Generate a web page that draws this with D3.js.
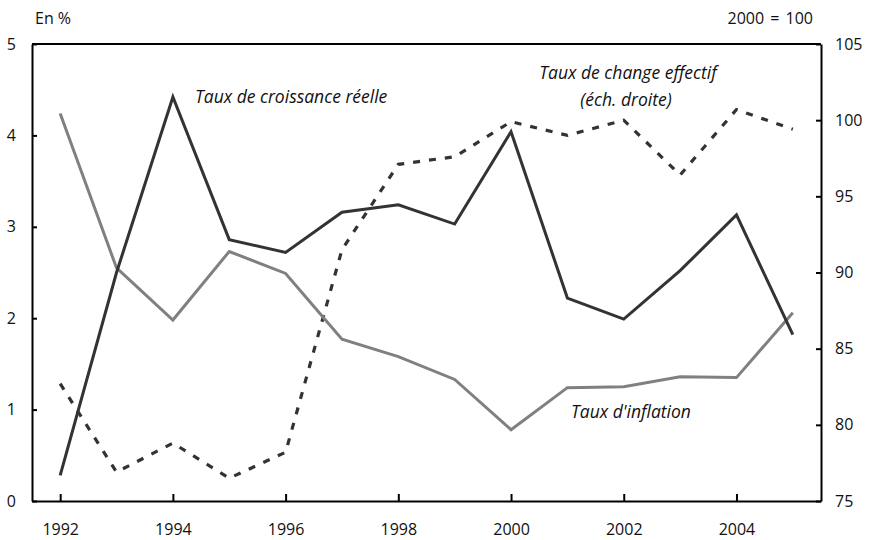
<!DOCTYPE html>
<html>
<head>
<meta charset="utf-8">
<script src="https://cdn.jsdelivr.net/npm/d3@7"></script>
<style>
  body { margin: 0; background: #fff; }
  svg text { font-family: "Open Sans", "Noto Sans", sans-serif; fill: #111; }
</style>
</head>
<body>
<div class="chart"></div>
<script>
var years = [1992, 1993, 1994, 1995, 1996, 1997, 1998, 1999, 2000, 2001, 2002, 2003, 2004, 2005];
var croissance = [0.28, 2.5, 4.42, 2.86, 2.72, 3.16, 3.24, 3.03, 4.04, 2.22, 1.99, 2.52, 3.13, 1.82];
var inflation = [4.24, 2.55, 1.98, 2.73, 2.49, 1.77, 1.58, 1.33, 0.78, 1.24, 1.25, 1.36, 1.35, 2.06];
var change = [82.7, 76.9, 78.8, 76.5, 78.2, 91.5, 97.1, 97.6, 99.9, 99.0, 100.0, 96.4, 100.7, 99.4];
var xTicks = [1992, 1994, 1996, 1998, 2000, 2002, 2004];
var leftTicks = [0, 1, 2, 3, 4, 5];
var rightTicks = [75, 80, 85, 90, 95, 100, 105];

var margin = { top: 44, right: 48, bottom: 39, left: 32 };
var fullWidth = 869, fullHeight = 540;
var width = fullWidth - margin.left - margin.right;
var height = fullHeight - margin.top - margin.bottom;
var tickFont = "16px";
var labelFont = "17.5px";

var svg = d3.select(".chart").append("svg")
  .attr("width", fullWidth)
  .attr("height", fullHeight)
  .append("g")
  .attr("transform", `translate(${margin.left}, ${margin.top})`);

var xScale = d3.scalePoint().domain(years).range([0, width]).padding(0.5);
var yLeft = d3.scaleLinear().domain([0, 5]).range([height, 0]);
var yRight = d3.scaleLinear().domain([75, 105]).range([height, 0]);

// axes, ticks pointing inward
var xAxis = d3.axisBottom(xScale).tickValues(xTicks).tickSize(-7).tickSizeOuter(0).tickPadding(23);
var gx = svg.append("g").attr("transform", `translate(0, ${height})`).call(xAxis);

var gl = svg.append("g").call(d3.axisLeft(yLeft).tickValues(leftTicks).tickFormat(d3.format("d"))
  .tickSize(-5).tickSizeOuter(0).tickPadding(16));
var gr = svg.append("g").attr("transform", `translate(${width}, 0)`)
  .call(d3.axisRight(yRight).tickValues(rightTicks).tickSize(-5).tickSizeOuter(0).tickPadding(14));

svg.append("line").attr("x1", 0).attr("x2", width).attr("y1", 0).attr("y2", 0)
  .attr("stroke", "#000").attr("stroke-width", 2);

[gx, gl, gr].forEach(function (g) {
  g.select(".domain").attr("stroke", "#000").attr("stroke-width", 2);
  g.selectAll(".tick line").attr("stroke", "#000").attr("stroke-width", 2);
  g.selectAll("text").style("font-size", tickFont).style("font-family", "'Open Sans', 'Noto Sans', sans-serif").attr("fill", "#111");
});

function lineFor(scale) {
  return d3.line().x((d, i) => xScale(years[i])).y(d => scale(d));
}

svg.append("path").datum(change)
  .attr("d", lineFor(yRight))
  .attr("fill", "none").attr("stroke", "#333").attr("stroke-width", 3.2)
  .attr("stroke-dasharray", "7,9");

svg.append("path").datum(inflation)
  .attr("d", lineFor(yLeft))
  .attr("fill", "none").attr("stroke", "#808080").attr("stroke-width", 3);

svg.append("path").datum(croissance)
  .attr("d", lineFor(yLeft))
  .attr("fill", "none").attr("stroke", "#333").attr("stroke-width", 3);

// labels
var root = d3.select("svg");
root.append("text").attr("x", 35).attr("y", 24).style("font-size", tickFont).text("En %");
root.append("text").attr("x", 813).attr("y", 24).attr("text-anchor", "end").style("font-size", tickFont)
  .style("word-spacing", "2px").text("2000 = 100");

root.append("text").attr("x", 195).attr("y", 103).style("font-size", labelFont).style("font-style", "italic")
  .text("Taux de croissance réelle");
root.append("text").attr("x", 628).attr("y", 79).attr("text-anchor", "middle").style("font-size", labelFont).style("font-style", "italic")
  .text("Taux de change effectif");
root.append("text").attr("x", 626).attr("y", 106).attr("text-anchor", "middle").style("font-size", labelFont).style("font-style", "italic")
  .text("(éch. droite)");
root.append("text").attr("x", 571).attr("y", 418).style("font-size", labelFont).style("font-style", "italic")
  .text("Taux d'inflation");
</script>
</body>
</html>
